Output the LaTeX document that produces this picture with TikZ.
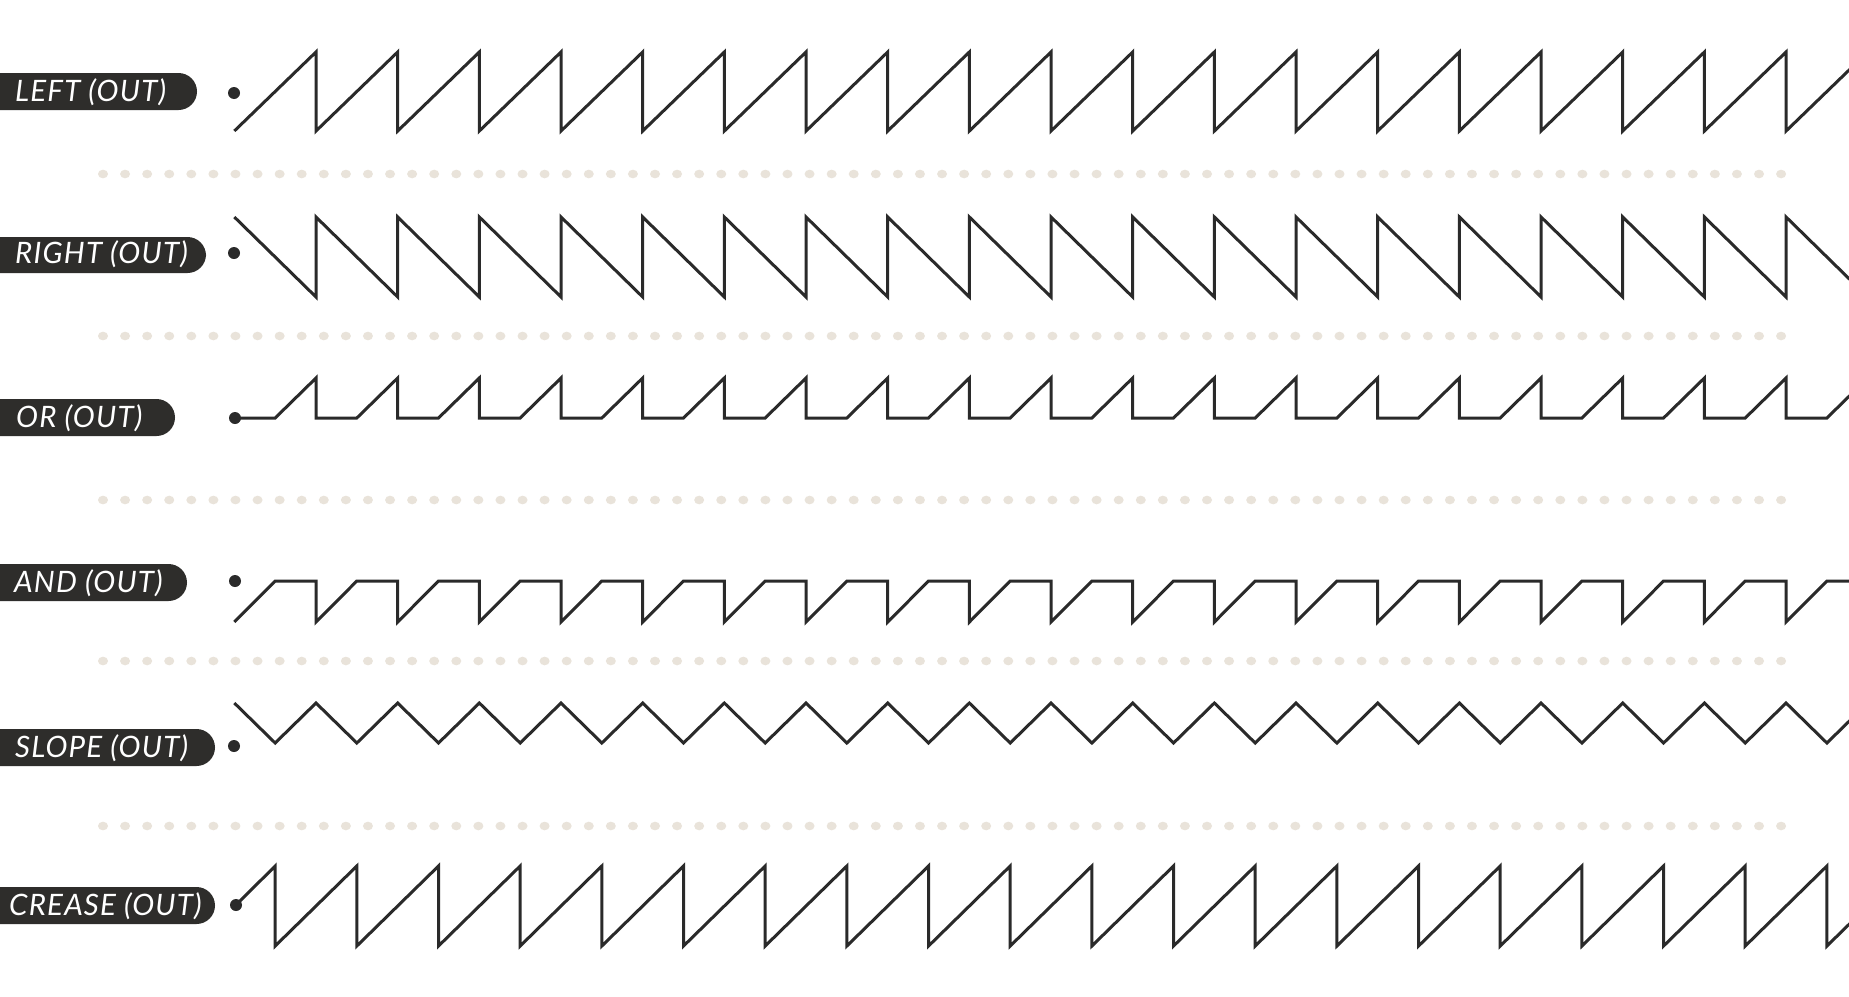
\documentclass[tikz,border=0pt]{standalone}
\usepackage{fontspec}
\setmainfont{Lato}
\definecolor{ink}{HTML}{2A2A2A}
\definecolor{pillc}{HTML}{2E2D2B}
\definecolor{sepc}{HTML}{E9E3DA}
\tikzset{
  wave/.style={draw=ink, line width=3pt, line join=miter},
  pill/.style={fill=pillc, rounded corners=18.5pt},
  lbl/.style={text=white, inner sep=0pt, anchor=base west, font=\fontsize{29.5}{29.5}\selectfont\itshape\addfontfeature{LetterSpace=4}},
  startdot/.style={fill=ink},
  sepdot/.style={fill=sepc}
}
\newcommand{\pp}{81.67}
\begin{document}
\begin{tikzpicture}[x=1pt,y=-1pt]
\useasboundingbox (0,0) rectangle (1849,996);
\clip (0,0) rectangle (1849,996);
\fill[white] (0,0) rectangle (1849,996);
% separators
\foreach \yy in {174,336,500,661,826}{
  \foreach \i in {0,...,76}{
    \fill[sepdot] ({103+\i*22.08},\yy) ellipse (5 and 4.3);
  }
}
% labels
\fill[pill] (-40,73) rectangle (197,110);
\node[lbl] (lleft) at (15,101) {LEFT (OUT)};
\fill[pill] (-40,237) rectangle (206,273);
\node[lbl] (lright) at (15,263) {RIGHT (OUT)};
\fill[pill] (-40,399) rectangle (175,436);
\node[lbl] (lor) at (16,427) {OR (OUT)};
\fill[pill] (-40,564) rectangle (187,601);
\node[lbl] (land) at (14,592) {AND (OUT)};
\fill[pill] (-40,729) rectangle (215,766);
\node[lbl] (lslope) at (15,757) {SLOPE (OUT)};
\fill[pill] (-40,887) rectangle (215,924);
\node[lbl] (lcrease) at (9,915) {CREASE (OUT)};
% start dots
\coordinate (dleft) at (234,93);
\coordinate (dright) at (234,253);
\coordinate (dor) at (235,418);
\coordinate (dand) at (235,581);
\coordinate (dslope) at (234,746);
\coordinate (dcrease) at (236,905);
\foreach \d in {dleft,dright,dor,dand,dslope,dcrease}{
  \fill[startdot] (\d) circle (6);
}
% LEFT
\draw[wave] (234.33,131) \foreach \k in {1,...,20}{ -- ({234.33+\k*\pp},52) -- ({234.33+\k*\pp},131) };
% RIGHT
\draw[wave] (234.33,217) \foreach \k in {1,...,20}{ -- ({234.33+\k*\pp},297) -- ({234.33+\k*\pp},217) };
% OR
\draw[wave] (dor) \foreach \k in {1,...,20}{ -- ({234.33+(\k-0.5)*\pp},418) -- ({234.33+\k*\pp},378) -- ({234.33+\k*\pp},418) };
% AND
\draw[wave] (234.33,622) \foreach \k in {1,...,20}{ -- ({234.33+(\k-0.5)*\pp},581) -- ({234.33+\k*\pp},581) -- ({234.33+\k*\pp},622) };
% SLOPE
\draw[wave] (234.33,703) \foreach \k in {1,...,20}{ -- ({234.33+(\k-0.5)*\pp},743) -- ({234.33+\k*\pp},703) };
% CREASE
\draw[wave] (dcrease) \foreach \k in {1,...,21}{ -- ({234.33+(\k-0.5)*\pp},866) -- ({234.33+(\k-0.5)*\pp},946) };
\end{tikzpicture}
\end{document}
